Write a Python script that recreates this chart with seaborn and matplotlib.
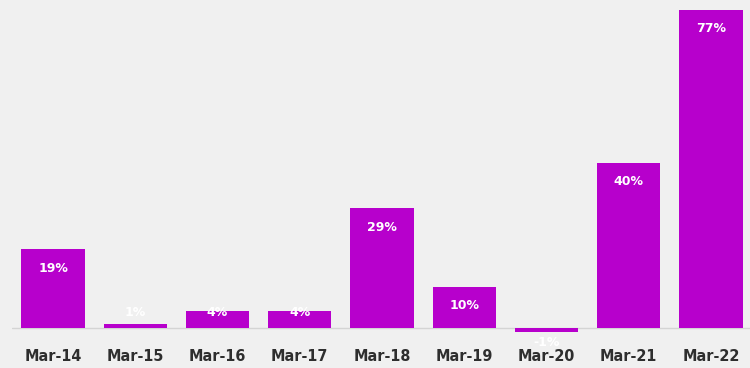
import matplotlib
matplotlib.use("Agg")
import matplotlib.pyplot as plt
import seaborn as sns
import pandas as pd

# Year-over-year change, March of each year
periods = ["Mar-14", "Mar-15", "Mar-16", "Mar-17", "Mar-18",
           "Mar-19", "Mar-20", "Mar-21", "Mar-22"]
growth = [19, 1, 4, 4, 29, 10, -1, 40, 77]
labels = ["19%", "1%", "4%", "4%", "29%", "10%", "-1%", "40%", "77%"]

BAR = "#b700cc"
BG = "#f0f0f0"

sns.set_theme(style="white")
plt.rcParams["font.family"] = ["DejaVu Sans"]

df = pd.DataFrame({"period": periods, "growth": growth})

fig = plt.figure(figsize=(7.5, 3.68), dpi=100, facecolor=BG)
ax = fig.add_axes([12 / 750, 31.7 / 368, 740 / 750, 333 / 368])
ax.set_facecolor(BG)

sns.barplot(data=df, x="period", y="growth", color=BAR, saturation=1,
            width=0.77, linewidth=0, ax=ax)

ax.set_xlim(-0.5, 8.5)
ax.set_ylim(-2, 78.5)
ax.axhline(0, color="#d4d4d4", lw=1, zorder=0)

for i, (v, lab) in enumerate(zip(growth, labels)):
    if v >= 8:
        y = v - 4.6
    elif v > 0:
        y = 3.7
    else:
        y = v - 2.4
    ax.text(i, y, lab, ha="center", va="center", color="white",
            fontsize=9, fontweight="bold", clip_on=False, zorder=5)

for s in ax.spines.values():
    s.set_visible(False)
ax.set_yticks([])
ax.set_xlabel("")
ax.set_ylabel("")
ax.tick_params(axis="x", length=0, pad=9)
for t in ax.get_xticklabels():
    t.set_fontsize(11.5)
    t.set_fontweight("bold")
    t.set_fontstretch("condensed")
    t.set_color("#2e2e2e")

fig.savefig("out.png", dpi=100, facecolor=BG)
